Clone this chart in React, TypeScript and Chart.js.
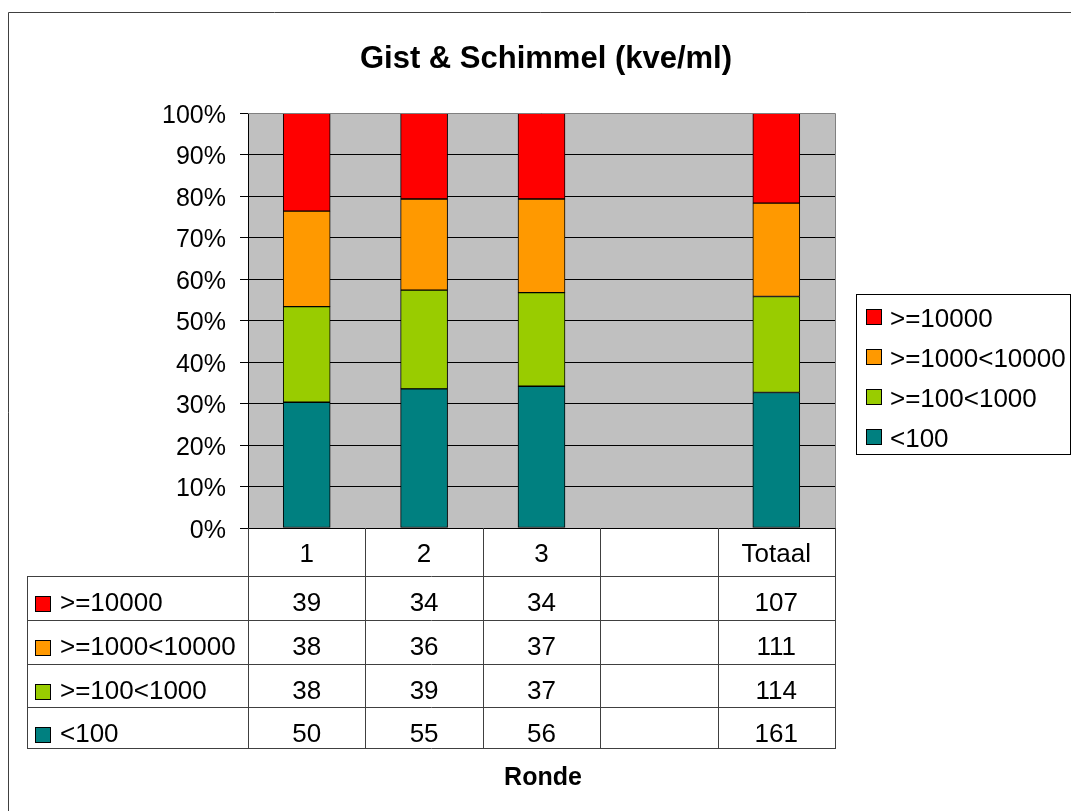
import React, { useEffect, useRef } from "react";
import { Chart, registerables } from "chart.js";

Chart.register(...registerables);

const categories = ["1", "2", "3", "", "Totaal"];
const seriesNames = [">=10000", ">=1000<10000", ">=100<1000", "<100"];
const seriesColors = ["#FF0000", "#FF9900", "#99CC00", "#008080"];
const countsGe10000 = [39, 34, 34, null, 107];
const counts1000to10000 = [38, 36, 37, null, 111];
const counts100to1000 = [38, 39, 37, null, 114];
const countsLt100 = [50, 55, 56, null, 161];
const yTicks = [0, 10, 20, 30, 40, 50, 60, 70, 80, 90, 100];
const titleText = "Gist & Schimmel (kve/ml)";
const xTitle = "Ronde";

const seriesCounts = [countsGe10000, counts1000to10000, counts100to1000, countsLt100];

const FONT = '"Liberation Sans", Arial, sans-serif';

function toPercent(series: (number | null)[]) {
  return series.map((v, i) => {
    if (v === null) return null;
    let tot = 0;
    seriesCounts.forEach((s) => (tot += (s[i] as number) || 0));
    return (v / tot) * 100;
  });
}

const overlay = {
  id: "overlay",
  beforeDraw(chart: any) {
    const { ctx, chartArea: a } = chart;
    ctx.save();
    ctx.fillStyle = "#FFFFFF";
    ctx.fillRect(0, 0, chart.width, chart.height);
    ctx.fillStyle = "#C0C0C0";
    ctx.fillRect(a.left, a.top, a.right - a.left, a.bottom - a.top);
    ctx.restore();
  },
  afterDraw(chart: any) {
    const { ctx, chartArea: a } = chart;
    const xs = chart.scales.x;
    ctx.save();
    // plot border (top/right gray)
    ctx.strokeStyle = "#808080";
    ctx.lineWidth = 1;
    ctx.beginPath();
    ctx.moveTo(a.left, a.top + 0.5);
    ctx.lineTo(a.right + 0.5, a.top + 0.5);
    ctx.lineTo(a.right + 0.5, a.bottom);
    ctx.stroke();

    // outer frame
    ctx.strokeStyle = "#404040";
    ctx.beginPath();
    ctx.moveTo(8.5, chart.height + 5);
    ctx.lineTo(8.5, 12.5);
    ctx.lineTo(chart.width + 5, 12.5);
    ctx.stroke();

    // title
    ctx.fillStyle = "#000";
    ctx.textAlign = "center";
    ctx.textBaseline = "alphabetic";
    ctx.font = `bold 31px ${FONT}`;
    ctx.fillText(titleText, 546, 68);
    ctx.font = `bold 25px ${FONT}`;
    ctx.fillText(xTitle, 543, 785);

    // data table
    const n = categories.length;
    const catW = (a.right - a.left) / n;
    const rowY = [a.bottom, a.bottom + 48, a.bottom + 92, a.bottom + 136, a.bottom + 179, a.bottom + 220];
    const tableLeft = 27;
    ctx.strokeStyle = "#404040";
    ctx.lineWidth = 1;
    ctx.beginPath();
    for (let i = 0; i <= n; i++) {
      const x = Math.round(a.left + i * catW) + 0.5;
      ctx.moveTo(x, rowY[0]);
      ctx.lineTo(x, rowY[5]);
    }
    ctx.moveTo(tableLeft + 0.5, rowY[1]);
    ctx.lineTo(tableLeft + 0.5, rowY[5]);
    for (let r = 1; r <= 5; r++) {
      ctx.moveTo(tableLeft, rowY[r] + 0.5);
      ctx.lineTo(Math.round(a.right) + 1, rowY[r] + 0.5);
    }
    ctx.stroke();

    ctx.font = `26px ${FONT}`;
    ctx.textAlign = "center";
    categories.forEach((c, i) => {
      const cx = xs.getPixelForValue(i);
      ctx.fillText(c, cx, rowY[0] + 34);
    });
    seriesNames.forEach((name, r) => {
      const top = rowY[r + 1];
      const base = top + 35;
      ctx.fillStyle = seriesColors[r];
      ctx.fillRect(35, base - 15, 16, 16);
      ctx.strokeStyle = "#000";
      ctx.strokeRect(35.5, base - 14.5, 15, 15);
      ctx.fillStyle = "#000";
      ctx.textAlign = "left";
      ctx.fillText(name, 60, base);
      ctx.textAlign = "center";
      seriesCounts[r].forEach((v, i) => {
        if (v === null) return;
        ctx.fillText(String(v), xs.getPixelForValue(i), base);
      });
    });

    // legend
    ctx.strokeStyle = "#000";
    ctx.strokeRect(856.5, 294.5, 214, 160);
    seriesNames.forEach((name, r) => {
      const base = 327 + r * 40;
      ctx.fillStyle = seriesColors[r];
      ctx.fillRect(866, base - 18, 16, 16);
      ctx.strokeStyle = "#000";
      ctx.strokeRect(866.5, base - 17.5, 15, 15);
      ctx.fillStyle = "#000";
      ctx.textAlign = "left";
      ctx.fillText(name, 890, base);
    });
    ctx.restore();
  },
};

export default function App() {
  const ref = useRef<HTMLCanvasElement>(null);
  useEffect(() => {
    if (!ref.current) return;
    const datasets = [3, 2, 1, 0].map((r) => ({
      label: seriesNames[r],
      data: toPercent(seriesCounts[r]),
      backgroundColor: seriesColors[r],
      borderColor: "#000",
      borderWidth: 1,
      borderSkipped: false,
      barThickness: 47,
    }));
    const chart = new Chart(ref.current, {
      type: "bar",
      data: { labels: categories, datasets: datasets as any },
      options: {
        animation: false,
        responsive: false,
        devicePixelRatio: 1,
        layout: { padding: { left: 0, top: 113, right: 236, bottom: 283 } },
        plugins: { legend: { display: false }, title: { display: false }, tooltip: { enabled: false } },
        scales: {
          x: { stacked: true, display: false },
          y: {
            stacked: true,
            min: 0,
            max: 100,
            afterBuildTicks: (s: any) => {
              s.ticks = yTicks.map((v) => ({ value: v }));
            },
            afterFit: (s: any) => {
              s.width = 248;
            },
            ticks: {
              callback: (v: any) => v + "%",
              font: { family: FONT, size: 25 },
              color: "#000",
              padding: 14,
              labelOffset: 3,
            },
            grid: { color: "#000", lineWidth: 1, tickLength: 8, drawTicks: true },
            border: { display: true, color: "#000" },
          },
        },
      },
      plugins: [overlay],
    });
    return () => chart.destroy();
  }, []);
  return (
    <canvas
      ref={ref}
      width={1071}
      height={811}
      style={{ position: "fixed", left: 0, top: 0, width: 1071, height: 811 }}
    />
  );
}
